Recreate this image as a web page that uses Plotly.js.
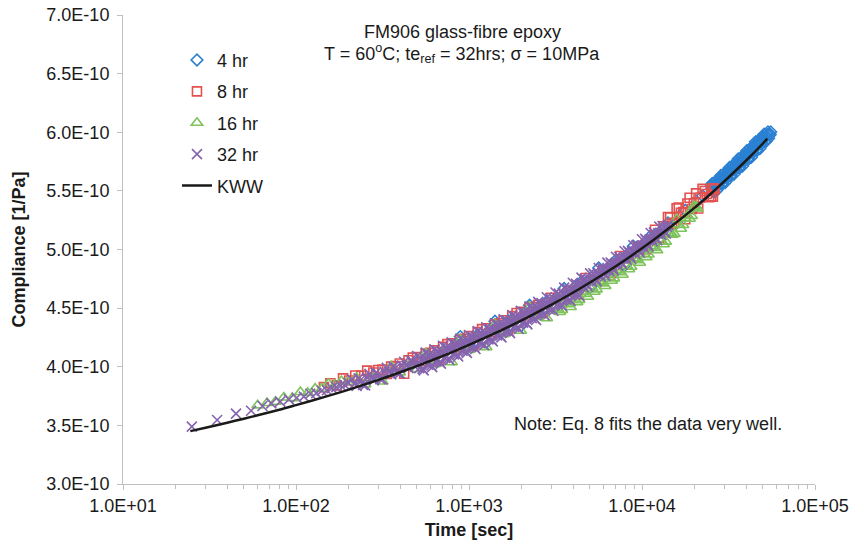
<!DOCTYPE html>
<html>
<head>
<meta charset="utf-8">
<script src="https://cdn.plot.ly/plotly-3.0.1.min.js"></script>
<style>html,body{margin:0;padding:0;background:#fff;}#chart{width:851px;height:543px;}</style>
</head>
<body>
<div id="chart"></div>
<script>
// Compliance values are given in units of 1E-10 1/Pa, times in seconds.
var seriesNames = ["4 hr", "8 hr", "16 hr", "32 hr", "KWW"];

var blueTime = [891,1000,1122,1259,1413,1585,1778,1995,2239,2512,2818,3162,3548,3981,4467,5012,5623,6310,7079,7943,8913,10000,11220,12590,14130,15850,17780,19950,22390,
  25120,25850,26610,27380,28180,29000,29850,30720,31620,32540,33500,34470,35480,36520,37580,38680,39810,40970,42170,43400,44670,45970,47320,48700,50120,51580,53090,54640,
  25490,26230,26990,27780,28590,29420,30280,31170,32070,33010,33980,34970,35990,37050,38120,39240,40380,41560,42780,44030,45320,46640,48000,49400,50850,52330,53860,55440,
  25300,26040,26800,27580,28380,29210,30060,30940,31850,32770,33740,34720,35740,36780,37850,38960,40100,41270,42470,43710,44990,46300,47660,49050,50480,51950,53470,55030];
var blueComp = [4.257,4.186,4.270,4.209,4.388,4.320,4.407,4.349,4.524,4.468,4.559,4.505,4.667,4.631,4.726,4.676,4.842,4.811,4.911,4.865,5.027,5.010,5.115,5.092,5.226,5.232,5.335,5.352,5.458,
  5.539,5.496,5.556,5.547,5.607,5.563,5.623,5.614,5.674,5.632,5.693,5.684,5.745,5.703,5.764,5.755,5.816,5.775,5.836,5.829,5.891,5.850,5.912,5.904,5.957,5.926,5.981,5.976,
  5.564,5.530,5.504,5.590,5.632,5.598,5.572,5.657,5.700,5.667,5.642,5.727,5.771,5.738,5.713,5.798,5.843,5.810,5.786,5.873,5.918,5.886,5.861,5.948,5.984,5.962,5.948,6.003,
  5.517,5.491,5.585,5.543,5.585,5.558,5.652,5.610,5.652,5.627,5.722,5.680,5.723,5.698,5.794,5.752,5.795,5.771,5.866,5.826,5.870,5.846,5.941,5.901,5.945,5.922,6.003,5.981];

var redTime = [145,158,172,187,203,220,238,258,280,
  299,335,376,422,473,531,596,668,750,841,944,1059,1189,1334,1496,1679,1884,2113,2371,2661,
  316,355,398,447,501,562,631,708,794,891,1000,1122,1259,1413,1585,1778,1995,2239,2512,
  2985,3350,3758,4217,4732,5309,5957,6683,7499,8414,9441,10590,
  11890,12590,13340,14130,14960,15850,16790,17780,18840,19950,21130,22390,23710,25120,25700,26300,
  14540,15400,16310,17280,18300,19390,20540,21750,23040,24410,25850];
var redComp = [3.826,3.859,3.841,3.901,3.883,3.925,3.924,3.967,3.951,
  3.972,3.939,4.007,3.940,4.078,4.047,4.118,4.053,4.193,4.165,4.238,4.177,4.321,4.295,4.371,4.312,4.459,4.437,4.509,4.462,
  3.976,4.002,4.028,4.055,4.083,4.112,4.140,4.170,4.199,4.231,4.262,4.295,4.328,4.362,4.396,4.432,4.468,4.506,4.528,
  4.588,4.569,4.644,4.619,4.757,4.742,4.822,4.801,4.944,4.934,5.019,5.003,
  5.168,5.101,5.198,5.277,5.220,5.351,5.313,5.258,5.441,5.395,5.350,5.517,5.473,5.453,5.450,5.515,
  5.274,5.227,5.358,5.320,5.392,5.346,5.479,5.443,5.499,5.446,5.522];

var greenTime = [60,68,76,85,95,106,117,129,141,154,168,183,199,
  224,251,282,316,355,398,447,501,562,631,708,794,891,1000,1122,1259,1413,1585,1778,1995,2239,2512,2818,2985,
  3162,3350,3548,3758,3981,4217,4467,4732,5012,5309,5623,5957,6310,6683,7079,7499,7943,8414,8913,9441,10000,10590,11220,11890,12590,13340,14130,14960,15850,16790,17780,18840,19950,20890,
  3255,3448,3652,3868,4097,4340,4597,4870,5158,5464,5788,6131,6494,6879,7286,7718,8175,8660,9173,9716,10290,10900,11550,12230,12960,13730,14540,15400,16310,17280,18300,19390,20540];
var greenComp = [3.671,3.691,3.702,3.738,3.732,3.785,3.777,3.813,3.813,3.855,3.846,3.879,3.870,
  3.904,3.850,3.901,3.874,4.003,3.952,4.005,3.981,4.113,4.021,4.120,4.038,4.232,4.143,4.245,4.167,4.363,4.277,4.382,4.307,4.507,4.425,4.414,4.477,
  4.574,4.467,4.556,4.533,4.657,4.551,4.641,4.620,4.745,4.640,4.731,4.711,4.837,4.733,4.826,4.807,4.934,4.832,4.925,4.908,5.036,4.935,5.030,5.014,5.144,5.045,5.141,5.126,5.258,5.177,5.266,5.262,5.369,5.351,
  4.498,4.485,4.549,4.510,4.582,4.570,4.635,4.597,4.671,4.660,4.726,4.689,4.763,4.754,4.821,4.785,4.861,4.853,4.921,4.887,4.964,4.957,5.027,4.994,5.073,5.067,5.138,5.133,5.213,5.209,5.290,5.286,5.368];

var purpleTime = [25,35,45,55,64,72,81,91,101,111,121,131,141,151,161,171,181,191,201,
  211,224,237,251,266,282,299,316,335,355,376,398,422,447,473,
  218,230,244,259,274,290,307,325,345,365,387,410,434,460,487,
  501,516,531,547,562,579,596,613,631,649,668,688,708,729,750,772,794,818,841,866,
  891,917,944,972,1000,1029,1059,1090,1122,1155,1189,1223,1259,1296,1334,1372,1413,1454,1496,1540,
  1585,1631,1679,1728,1778,1830,1884,1939,1995,2054,2113,2175,2239,2304,2371,2441,2512,2585,2661,2738,
  2818,2901,2985,3073,3162,3255,3350,3448,3548,3652,3758,3868,3981,4097,4217,4340,4467,4597,4732,4870,
  5012,5158,5309,5464,5623,5788,5957,6131,6310,6494,6683,6879,7079,7286,7499,7718,7943,8175,8414,8660,
  8913,9173,9441,9716,10000,10290,10590,10900,11220,11550,11890,12230,12590,12960,13340,13730,14130,
  508,523,539,555,570,587,605,622,640,658,678,698,718,740,761,783,806,830,853,879,
  904,930,958,986,1015,1044,1074,1106,1138,1172,1206,1241,1277,1315,1353,1392,1433,1475,1518,1562,
  1608,1655,1703,1753,1804,1857,1911,1967,2024,2084,2144,2207,2271,2337,2405,2476,2548,2622,2700,2778,
  2859,2943,3028,3118,3208,3302,3399,3498,3599,3705,3812,3924,4039,4156,4278,4403,4532,4664,4801,4941,
  5085,5233,5386,5543,5705,5872,6043,6220,6401,6588,6780,6979,7182,7392,7608,7830,8058,8294,8536,8786,
  9042,9306,9578,9857,10145,10439,10744,11058,11383,11717,12062,12407,12773,13148,13533,13929];
var purpleComp = [3.489,3.546,3.600,3.625,3.665,3.688,3.702,3.722,3.736,3.745,3.770,3.775,3.795,3.800,3.818,3.826,3.840,3.845,3.862,
  3.892,3.836,3.889,3.841,3.939,3.884,3.938,3.891,3.990,3.935,3.990,3.943,4.043,3.988,4.044,
  3.855,3.901,3.844,3.907,3.903,3.949,3.894,3.958,3.954,4.001,3.946,4.010,4.007,4.054,4.000,
  4.092,3.988,4.064,3.969,4.121,4.017,4.093,3.997,4.149,4.046,4.122,4.027,4.179,4.075,4.151,4.056,4.208,4.105,4.182,4.087,
  4.240,4.136,4.213,4.118,4.271,4.168,4.246,4.151,4.304,4.201,4.279,4.184,4.337,4.234,4.312,4.217,4.371,4.268,4.346,4.251,
  4.405,4.303,4.381,4.287,4.441,4.339,4.417,4.323,4.477,4.376,4.454,4.361,4.515,4.414,4.492,4.399,4.553,4.452,4.531,4.438,
  4.593,4.492,4.571,4.478,4.633,4.532,4.612,4.519,4.675,4.574,4.653,4.561,4.716,4.616,4.696,4.604,4.760,4.677,4.740,4.682,
  4.796,4.722,4.785,4.728,4.842,4.768,4.831,4.774,4.888,4.814,4.878,4.822,4.937,4.863,4.927,4.870,4.985,4.912,4.977,4.921,
  5.036,4.963,5.028,4.972,5.087,5.015,5.080,5.025,5.141,5.069,5.134,5.079,5.195,5.124,5.190,5.135,5.209,
  4.028,4.078,3.982,4.067,4.057,4.107,4.011,4.095,4.085,4.136,4.040,4.125,4.115,4.165,4.069,4.154,4.144,4.195,4.100,4.185,
  4.176,4.226,4.131,4.216,4.207,4.259,4.164,4.249,4.240,4.292,4.197,4.282,4.273,4.325,4.230,4.316,4.307,4.359,4.264,4.350,
  4.342,4.394,4.300,4.386,4.378,4.430,4.336,4.422,4.414,4.467,4.373,4.460,4.452,4.505,4.411,4.498,4.490,4.543,4.450,4.537,
  4.530,4.583,4.490,4.577,4.570,4.624,4.531,4.619,4.612,4.665,4.573,4.660,4.654,4.708,4.616,4.704,4.698,4.752,4.703,4.740,
  4.742,4.797,4.748,4.786,4.788,4.843,4.794,4.832,4.834,4.889,4.842,4.880,4.883,4.938,4.890,4.928,4.932,4.988,4.941,4.979,
  4.983,5.039,4.992,5.030,5.034,5.091,5.044,5.084,5.088,5.145,5.098,5.138,5.143,5.200,5.154,5.194];

var kwwTime = [24.5,30,40,50,60,80,100,150,200,300,400,600,800,1000,1500,2000,3000,4000,6000,8000,10000,15000,20000,25000,30000,40000,50000,53000];
var kwwComp = [3.451,3.480,3.523,3.557,3.586,3.633,3.673,3.747,3.803,3.888,3.953,4.051,4.125,4.186,4.304,4.393,4.530,4.633,4.791,4.911,5.010,5.205,5.353,5.476,5.583,5.759,5.904,5.945];

var xTickVals = [10, 100, 1000, 10000, 100000];
var xTickText = ["1.0E+01", "1.0E+02", "1.0E+03", "1.0E+04", "1.0E+05"];
var yTickVals = [3.0, 3.5, 4.0, 4.5, 5.0, 5.5, 6.0, 6.5, 7.0];
var yTickText = ["3.0E-10", "3.5E-10", "4.0E-10", "4.5E-10", "5.0E-10", "5.5E-10", "6.0E-10", "6.5E-10", "7.0E-10"];

var FONT = "Liberation Sans, Arial, Helvetica, sans-serif";
var AXC = "#bfbfbf";
var TXT = "#1a1a1a";
function toPa(arr) { return arr.map(function (v) { return v * 1e-10; }); }

var minorVals = [];
[10, 100, 1000, 10000].forEach(function (d) { for (var k = 2; k <= 9; k++) minorVals.push(k * d); });

var traces = [
  { type: "scatter", mode: "markers", name: seriesNames[0], legendgroup: "a", x: blueTime, y: toPa(blueComp),
    marker: { symbol: "diamond-open", size: 9, color: "#2b80d2", line: { width: 1.6, color: "#2b80d2" } }, hoverinfo: "skip" },
  { type: "scatter", mode: "markers", name: seriesNames[1], legendgroup: "b", x: redTime, y: toPa(redComp),
    marker: { symbol: "square-open", size: 9, color: "#e2514f", line: { width: 1.6, color: "#e2514f" } }, hoverinfo: "skip" },
  { type: "scatter", mode: "markers", name: seriesNames[2], legendgroup: "c", x: greenTime, y: toPa(greenComp),
    marker: { symbol: "triangle-up-open", size: 10, color: "#7ec35b", line: { width: 1.6, color: "#7ec35b" } }, hoverinfo: "skip" },
  { type: "scatter", mode: "markers", name: seriesNames[3], legendgroup: "d", x: purpleTime, y: toPa(purpleComp),
    marker: { symbol: "x-thin", size: 10, color: "#8563ae", line: { width: 1.6, color: "#8563ae" } }, hoverinfo: "skip" },
  { type: "scatter", mode: "lines", name: seriesNames[4], legendgroup: "e", x: kwwTime, y: toPa(kwwComp),
    line: { color: "#1a1a1a", width: 2.5, shape: "spline", smoothing: 0.8 }, hoverinfo: "skip" }
];

var layout = {
  width: 851, height: 543,
  margin: { l: 123, r: 36, t: 15, b: 59 },
  paper_bgcolor: "#ffffff", plot_bgcolor: "#ffffff",
  font: { family: FONT, size: 18, color: TXT },
  showlegend: true,
  legend: { x: 0.078, y: 0.943, xanchor: "left", yanchor: "top", bgcolor: "rgba(0,0,0,0)",
    font: { family: FONT, size: 18, color: TXT }, tracegroupgap: 5, itemsizing: "trace" },
  xaxis: {
    type: "log", range: [1, 5], showgrid: false, zeroline: false,
    showline: true, linecolor: AXC, linewidth: 1, mirror: false,
    ticks: "outside", ticklen: 5, tickcolor: AXC, tickwidth: 1,
    tickmode: "array", tickvals: xTickVals, ticktext: xTickText,
    tickfont: { family: FONT, size: 18, color: TXT },
    minor: { tickmode: "array", tickvals: minorVals, ticks: "outside", ticklen: 4, tickcolor: AXC, showgrid: false },
    title: { text: "Time [sec]", font: { family: FONT, size: 18, color: TXT, weight: "bold" }, standoff: 8 }
  },
  yaxis: {
    range: [3e-10, 7e-10], showgrid: false, zeroline: false,
    showline: true, linecolor: AXC, linewidth: 1,
    ticks: "outside", ticklen: 5, tickcolor: AXC, tickwidth: 1,
    tickmode: "array", tickvals: toPa(yTickVals), ticktext: yTickText,
    tickfont: { family: FONT, size: 18, color: TXT }, ticklabelstandoff: 4,
    title: { text: "Compliance [1/Pa]", font: { family: FONT, size: 18, color: TXT, weight: "bold" }, standoff: 16 }
  },
  annotations: [
    { xref: "paper", yref: "paper", x: 0.49, y: 0.964, xanchor: "center", yanchor: "middle", showarrow: false,
      text: "FM906 glass-fibre epoxy", font: { family: FONT, size: 18, color: TXT } },
    { xref: "paper", yref: "paper", x: 0.49, y: 0.918, xanchor: "center", yanchor: "middle", showarrow: false,
      text: "T = 60<sup>o</sup>C; te<sub>ref</sub> = 32hrs; σ = 10MPa", font: { family: FONT, size: 18, color: TXT } },
    { xref: "paper", yref: "paper", x: 0.759, y: 0.128, xanchor: "center", yanchor: "middle", showarrow: false,
      text: "Note: Eq. 8 fits the data very well.", font: { family: FONT, size: 18, color: TXT } }
  ]
};

Plotly.newPlot("chart", traces, layout, { staticPlot: true, displayModeBar: false });
</script>
</body>
</html>
